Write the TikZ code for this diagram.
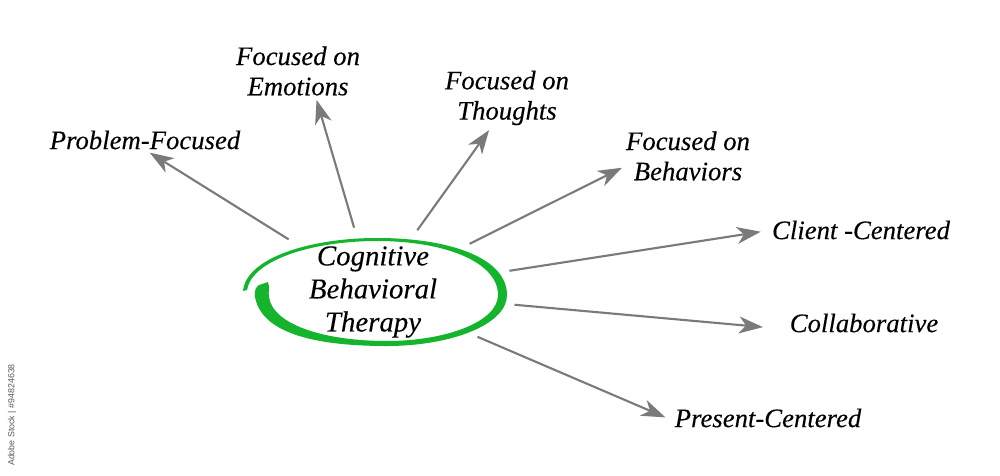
\documentclass[tikz,border=0pt]{standalone}
\usepackage{fontspec}
\setmainfont{Liberation Serif}[ItalicFeatures = {FakeBold = 0.2}]
\setsansfont{Liberation Sans}
\usetikzlibrary{arrows.meta, shapes.geometric}

\definecolor{swoosh}{HTML}{14B52C}
\definecolor{spoke}{HTML}{7A7A7A}

\begin{document}
\begin{tikzpicture}[x = 0.025cm, y = -0.025cm,
    every node/.style = {align = center, inner sep = 0pt, text = black,
        font = \fontsize{19}{21.5}\selectfont\itshape},
    centre/.style = {shape = ellipse, minimum width = 7.2cm, minimum height = 3.2cm,
        font = \fontsize{20.5}{23.5}\selectfont\itshape},
    spoke/.style = {draw = spoke, line width = 1.5pt,
        -{Stealth[length = 17pt, width = 12pt, inset = 5pt]}}]
    \useasboundingbox (0, 0) rectangle (1000, 475);

    % green ring
    \fill[swoosh] (243, 291)
        .. controls (246, 258) and (310, 238) .. (377, 238)
        .. controls (450, 238) and (507, 258) .. (507, 295)
        .. controls (507, 325) and (450, 346) .. (387, 346)
        .. controls (320, 346) and (262, 335) .. (255, 297)
        .. controls (254, 290) and (256, 285) .. (262, 284)
        -- (268, 282)
        .. controls (270, 287) and (268, 292) .. (269, 297)
        .. controls (273, 325) and (325, 341) .. (387, 341)
        .. controls (445, 341) and (498, 322) .. (498, 295)
        .. controls (498, 262) and (445, 241) .. (377, 241)
        .. controls (312, 241) and (252, 260) .. (247, 290)
        -- cycle;

    \node[centre] (cbt) at (373, 292) {Cognitive\\Behavioral\\Therapy};

    \node (problem) at (145, 140) {Problem-Focused};
    \node (emotions) at (298, 71) {Focused on\\Emotions};
    \node (thoughts) at (507, 98) {Focused on\\Thoughts};
    \node (behaviors) at (688, 156) {Focused on\\Behaviors};
    \node (client) at (861, 230) {Client -Centered};
    \node (collab) at (864, 323) {Collaborative};
    \node (present) at (768, 418) {Present-Centered};

    \foreach \target/\gap in {problem.south/4pt, emotions.-55/3pt, thoughts.-118/4pt,
        behaviors.-171/3pt, client.west/8pt, collab.-175/19pt, present.-178/7pt}
        \draw[spoke, shorten > = \gap] (cbt) -- (\target);

    \node[rotate = 90, text = black!65, font = \fontsize{6.3}{8}\selectfont\sffamily]
        (stock) at (12, 415) {Adobe Stock | \#94824638};
\end{tikzpicture}
\end{document}
